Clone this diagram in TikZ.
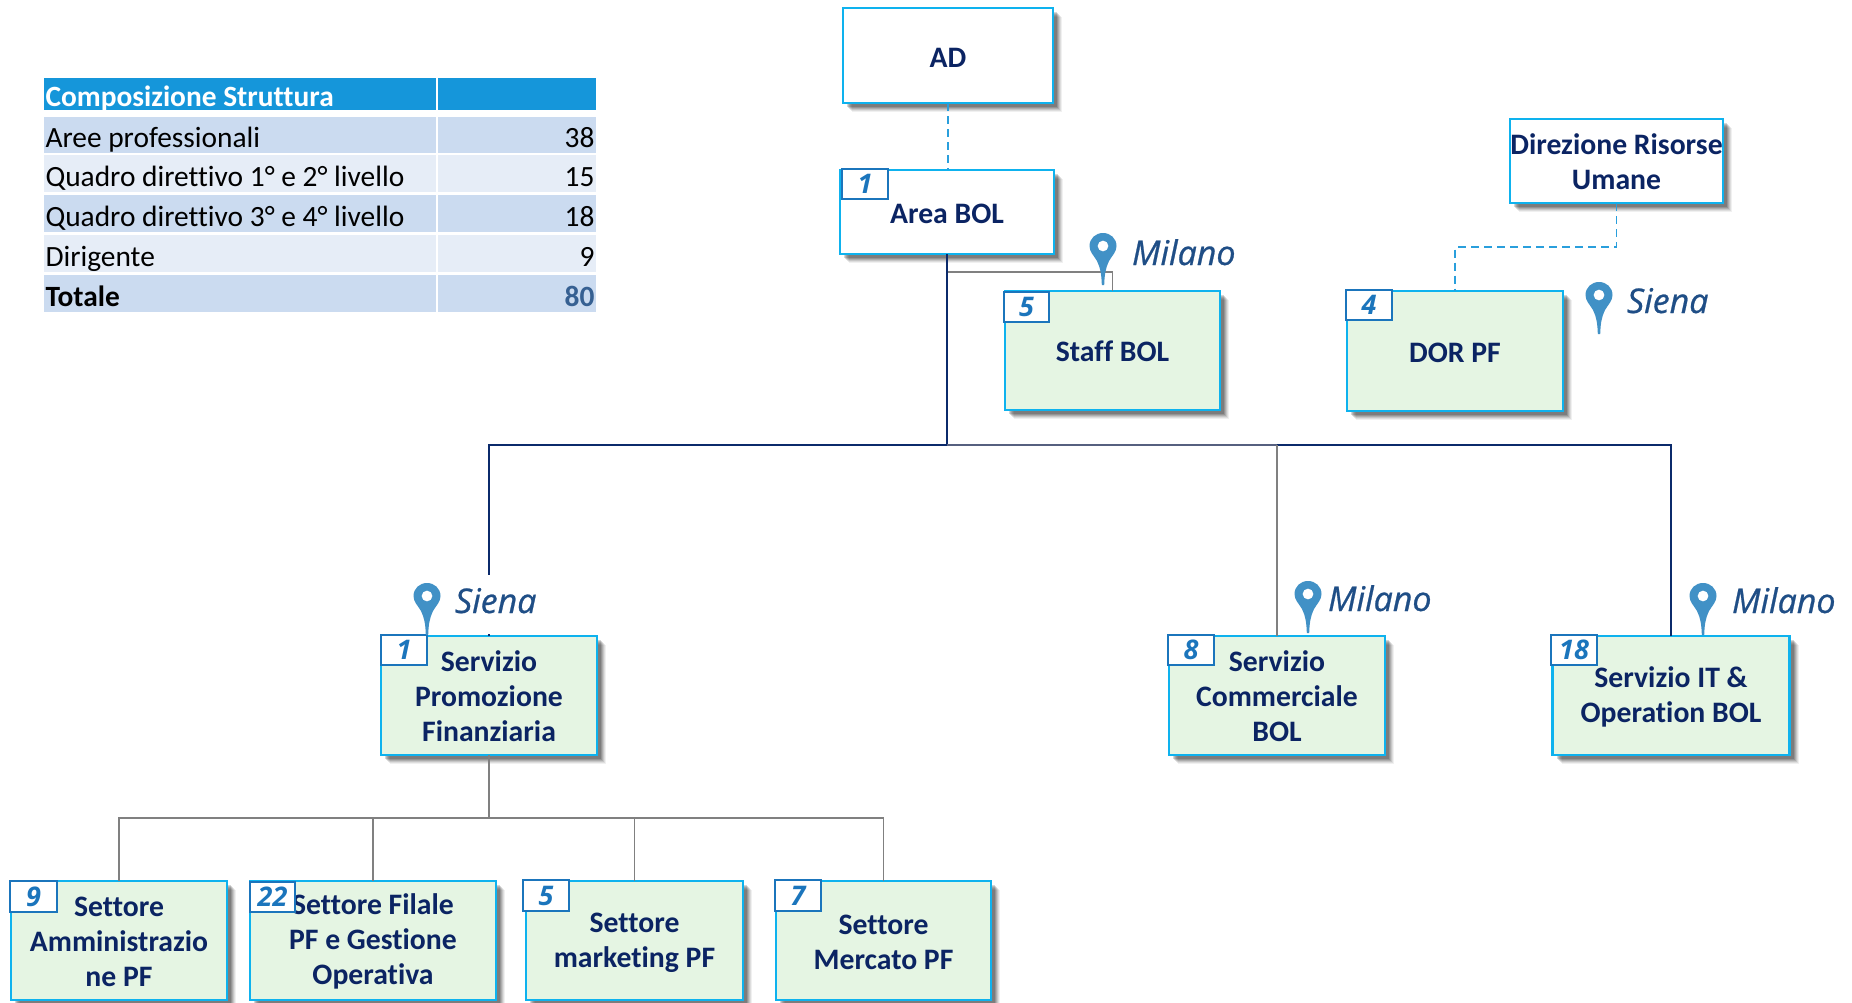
\documentclass[tikz,border=0pt]{standalone}
\usepackage{fontspec}
\setmainfont{Carlito}[RawFeature={-liga}]
\newfontfamily\handfont{Open Sans}[RawFeature={embolden=0.7}]
\newfontfamily\badgefont{Open Sans}
\usetikzlibrary{shadows}
\definecolor{boxline}{HTML}{0EB2EE}
\definecolor{boxgreen}{HTML}{E5F5E3}
\definecolor{txtnavy}{HTML}{0B2463}
\definecolor{linenavy}{HTML}{0B2A6B}
\definecolor{linegrey}{HTML}{808080}
\definecolor{linemix}{HTML}{56607F}
\definecolor{dashblue}{HTML}{2A9FDC}
\definecolor{badgeline}{HTML}{1B75BC}
\definecolor{pinblue}{HTML}{4191C6}
\definecolor{cityblue}{HTML}{1F4E86}
\definecolor{headblue}{HTML}{1596DA}
\definecolor{rowdark}{HTML}{CBDBF0}
\definecolor{rowlight}{HTML}{E6EDF7}
\definecolor{totblue}{HTML}{366092}
\newcommand{\tp}{\rule{0pt}{23pt}}
\tikzset{
  softshadow/.style={
    general shadow={fill=black,fill opacity=.06,shadow xshift=9pt,shadow yshift=-9pt},
    general shadow={fill=black,fill opacity=.08,shadow xshift=8pt,shadow yshift=-8pt},
    general shadow={fill=black,fill opacity=.10,shadow xshift=7pt,shadow yshift=-7pt},
    general shadow={fill=black,fill opacity=.12,shadow xshift=6pt,shadow yshift=-6pt},
    general shadow={fill=black,fill opacity=.14,shadow xshift=5pt,shadow yshift=-5pt},
    general shadow={fill=black,fill opacity=.16,shadow xshift=4pt,shadow yshift=-4pt}},
  orgbox/.style={softshadow,draw=boxline,line width=2.4pt,fill=white,text=txtnavy,
    font=\fontsize{29.7}{35}\selectfont\bfseries,align=center,inner sep=0pt,outer sep=0pt},
  greenbox/.style={orgbox,fill=boxgreen},
  badge/.style={draw=badgeline,line width=1.5pt,fill=white,text=badgeline,anchor=north west,
    inner sep=0pt,outer sep=0pt,font=\fontsize{27}{27}\badgefont\itshape\bfseries},
  city/.style={text=cityblue,anchor=base west,inner sep=0pt,outer sep=0pt,
    font=\fontsize{34}{34}\handfont\itshape},
  greyline/.style={draw=linegrey,line width=1.4pt},
  navyline/.style={draw=linenavy,line width=2pt},
  dashline/.style={draw=dashblue,line width=1.8pt,dash pattern=on 8pt off 5pt},
  cell/.style={anchor=north west,inner ysep=0pt,inner xsep=1.5pt,outer sep=0pt,align=flush left,
    font=\fontsize{29.4}{32}\selectfont,execute at begin node={\spaceskip=0pt \xspaceskip=0pt }},
  pics/mappin/.style={code={
    \fill[pinblue,even odd rule]
      (-1.2,0) .. controls (-1.5,-10) and (-2.5,-17) .. (-6,-24)
      .. controls (-9.5,-30) and (-13.5,-33) .. (-13.5,-39)
      .. controls (-13.5,-46.5) and (-7.5,-52) .. (0,-52)
      .. controls (7.5,-52) and (13.5,-46.5) .. (13.5,-39)
      .. controls (13.5,-33) and (9.5,-30) .. (6,-24)
      .. controls (2.5,-17) and (1.5,-10) .. (1.2,0) -- cycle
      (0,-39) circle[radius=5.5];
  }}
}
% fill, top, total height, depth, left text, right text, text colour, name
\newcommand{\tablerow}[8]{%
  \node[cell,fill=#1,text=#7,minimum width=392pt,text width=389pt,text height=#3pt-#4pt,text depth=#4pt] (#8a) at (44,#2) {#5};
  \node[cell,fill=#1,text=#7,minimum width=158pt,text width=155pt,text height=#3pt-#4pt,text depth=#4pt,align=flush right] (#8b) at (438,#2) {#6};
}
\begin{document}
\begin{tikzpicture}[x=1pt,y=-1pt]
\fill[white] (0,0) rectangle (1852,1002);

% table
\tablerow{headblue}{78}{32}{3.5}{\textbf{Composizione Struttura}}{}{white}{rh}
\tablerow{rowdark}{117}{36}{6}{Aree professionali}{38}{black}{ra}
\tablerow{rowlight}{155}{37}{6}{Quadro direttivo 1° e 2° livello}{15}{black}{rb}
\tablerow{rowdark}{195}{37}{6}{Quadro direttivo 3° e 4° livello}{18}{black}{rc}
\tablerow{rowlight}{235}{37}{6}{Dirigente}{9}{black}{rd}
\tablerow{rowdark}{275}{37}{6}{\textbf{Totale}}{\textcolor{totblue}{\textbf{80}}}{black}{re}

% boxes
\node[orgbox,minimum width=210pt,minimum height=95pt] (ad) at (948,55.5) {\tp AD};
\node[orgbox,minimum width=214pt,minimum height=84pt] (area) at (947,212) {\tp Area BOL};
\node[orgbox,minimum width=213pt,minimum height=84pt] (dir) at (1616.5,161) {\tp Direzione Risorse\\Umane};
\node[greenbox,minimum width=215pt,minimum height=119pt] (staff) at (1112.5,350.5) {\tp Staff BOL};
\node[greenbox,minimum width=216pt,minimum height=120pt] (dor) at (1455,351) {\tp DOR PF};
\node[greenbox,minimum width=216pt,minimum height=119pt] (promo) at (489,695.5) {\tp Servizio\\Promozione\\Finanziaria};
\node[greenbox,minimum width=216pt,minimum height=119pt] (comm) at (1277,695.5) {\tp Servizio\\Commerciale\\BOL};
\node[greenbox,minimum width=237pt,minimum height=119pt] (it) at (1671,695.5) {\tp Servizio IT \&\\Operation BOL};
\node[greenbox,minimum width=216pt,minimum height=119pt] (amm) at (119,940.5) {\tp Settore\\Amministrazio\\ne PF};
\node[greenbox,minimum width=246pt,minimum height=119pt] (fil) at (373,940.5) {\tp Settore Filale\\PF e Gestione\\Operativa};
\node[greenbox,minimum width=217pt,minimum height=119pt] (mkt) at (634.5,940.5) {\tp Settore\\marketing PF};
\node[greenbox,minimum width=215pt,minimum height=119pt] (mer) at (883.5,940.5) {\tp Settore\\Mercato PF};

% connectors
\coordinate (tap) at (947,272);
\coordinate (bus) at (947,445);
\coordinate (promostub) at (489,575);
\coordinate (subbus) at (489,818);
\coordinate (dirbend) at (1617,247);
\draw[dashline] (ad.south) -- (ad.south |- area.north);
\draw[dashline] (dir.south) |- (dirbend -| dor.north) -- (dor.north);
\draw[greyline] (tap) -| (staff.north);
\draw[navyline] (area.south) -- (bus);
\draw[navyline] (bus) -| (promostub);
\draw[navyline] (promo.north) -- ++(0,-2);
\draw[navyline] (bus) -| (it.north);
\draw[draw=linemix,line width=2pt] (bus) -- (bus -| comm.north);
\draw[greyline] (bus -| comm.north) -- (comm.north);
\draw[greyline] (promo.south) -- (subbus);
\draw[greyline] (subbus) -| (amm.north);
\draw[greyline] (subbus) -| (fil.north);
\draw[greyline] (subbus) -| (mkt.north);
\draw[greyline] (subbus) -| (mer.north);

% badges
\node[badge,minimum width=46pt,minimum height=30pt] (b1) at (842,169) {1};
\node[badge,minimum width=45pt,minimum height=30pt] (b2) at (1004,292) {5};
\node[badge,minimum width=46pt,minimum height=30pt] (b3) at (1346,290) {4};
\node[badge,minimum width=46pt,minimum height=30pt] (b4) at (381,635) {1};
\node[badge,minimum width=46pt,minimum height=30pt] (b5) at (1168,635) {8};
\node[badge,minimum width=46pt,minimum height=30pt] (b6) at (1551,635) {18};
\node[badge,minimum width=47pt,minimum height=31pt] (b7) at (10,881) {9};
\node[badge,minimum width=45pt,minimum height=30pt] (b8) at (250,882) {22};
\node[badge,minimum width=46pt,minimum height=31pt] (b9) at (523,880) {5};
\node[badge,minimum width=46pt,minimum height=31pt] (b10) at (775,880) {7};

% place markers
\pic at (1103,285) {mappin};
\pic at (1599,334) {mappin};
\pic at (427,635) {mappin};
\pic at (1308,633) {mappin};
\pic at (1703,635) {mappin};
\node[city] (c1) at (1132,265) {Milano};
\node[city] (c2) at (1627,313) {Siena};
\node[city] (c3) at (455,613) {Siena};
\node[city] (c4) at (1328,611) {Milano};
\node[city] (c5) at (1732,613) {Milano};

\pgfresetboundingbox
\useasboundingbox (0,0) rectangle (1852,1002);
\end{tikzpicture}
\end{document}
